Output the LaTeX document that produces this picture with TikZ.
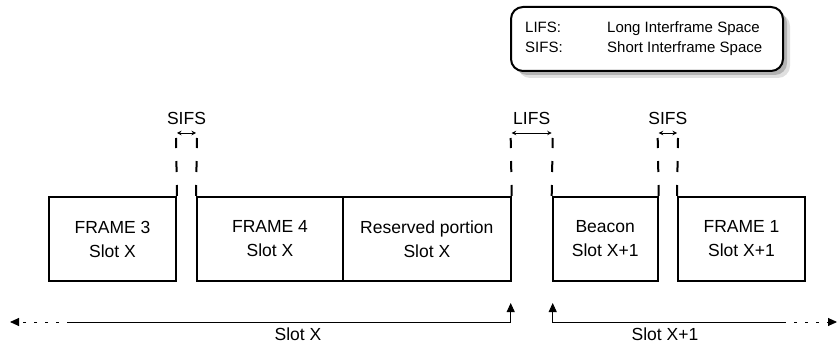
\documentclass[tikz,border=0pt]{standalone}
\usepackage{fontspec}
\setmainfont{Liberation Sans}
\usetikzlibrary{arrows.meta,shadows}
\begin{document}
\begin{tikzpicture}[x=1pt,y=-1pt,
  framebox/.style={draw,line width=2pt,minimum height=84pt,inner sep=0pt,align=center,font=\fontsize{17.5}{24}\selectfont},
  gapline/.style={line width=2pt,dash pattern=on 11pt off 13pt},
  gaparrow/.style={{Stealth[length=4.5pt,width=4.5pt]}-{Stealth[length=4.5pt,width=4.5pt]},line width=0.8pt},
  lbl/.style={font=\fontsize{17.5}{19}\selectfont,inner sep=0pt},
  slotline/.style={line width=0.9pt},
  slotdots/.style={line width=0.9pt,dash pattern=on 3pt off 8pt},
  slottip/.style={-{Triangle[length=9pt,width=8pt]}},
  legtext/.style={font=\fontsize{15}{18}\selectfont,inner sep=0pt,anchor=base west}]
\useasboundingbox (0,0) rectangle (837,344);
% frames
\node[framebox,minimum width=127pt] (f3) at (112.5,239) {FRAME 3\\Slot X};
\node[framebox,minimum width=146pt] (f4) at (270,239) {FRAME 4\\Slot X};
\node[framebox,minimum width=167.7pt] (res) at (426.85,239) {Reserved portion\\Slot X};
\node[framebox,minimum width=105pt] (bea) at (605.2,239) {Beacon\\Slot X+1};
\node[framebox,minimum width=127pt] (f1) at (741.5,239) {FRAME 1\\Slot X+1};
% gap markers
\coordinate (g1a) at (176,138); \coordinate (g1b) at (197,138);
\coordinate (g2a) at (510.7,138); \coordinate (g2b) at (552.7,138);
\coordinate (g3a) at (657.7,138); \coordinate (g3b) at (678,138);
\draw[gapline] (f3.north east) -- (g1a);
\draw[gapline] (f4.north west) -- (g1b);
\draw[gapline] (res.north east) -- (g2a);
\draw[gapline] (bea.north west) -- (g2b);
\draw[gapline] (bea.north east) -- (g3a);
\draw[gapline] (f1.north west) -- (g3b);
\coordinate (a1a) at (177,133); \coordinate (a1b) at (196,133);
\coordinate (a2a) at (511.7,133); \coordinate (a2b) at (551.7,133);
\coordinate (a3a) at (658.7,133); \coordinate (a3b) at (677,133);
\draw[gaparrow] (a1a) -- (a1b);
\draw[gaparrow] (a2a) -- (a2b);
\draw[gaparrow] (a3a) -- (a3b);
\node[lbl,anchor=base] (s1) at (186.5,125) {SIFS};
\node[lbl,anchor=base] (l1) at (531.7,125) {LIFS};
\node[lbl,anchor=base] (s2) at (667.8,125) {SIFS};
% slot axis
\coordinate (lt) at (10,322); \coordinate (ls) at (70,322);
\coordinate (lc) at (510.7,322); \coordinate (lu) at (510.7,303);
\draw[slotdots,slottip] (ls) -- (lt);
\draw[slotline,slottip] (ls) -- (lc) -- (lu);
\coordinate (ru) at (552.7,303); \coordinate (rc) at (552.7,322);
\coordinate (rs) at (783,322); \coordinate (rt) at (837,322);
\draw[slotline,slottip] (rs) -- (rc) -- (ru);
\draw[slotdots,slottip] (rs) -- (rt);
\node[lbl,anchor=base] (sx) at (298,340) {Slot X};
\node[lbl,anchor=base] (sx1) at (665,340) {Slot X+1};
% legend
\node[draw,fill=white,line width=2pt,rounded corners=12pt,minimum width=272pt,minimum height=64pt,
  drop shadow={shadow xshift=7pt,shadow yshift=-7pt,fill=black,opacity=0.12},
  drop shadow={shadow xshift=4pt,shadow yshift=-4pt,fill=black,opacity=0.2}] (legend) at (647,39) {};
\node[legtext] (k1) at (525,33) {LIFS:};
\node[legtext] (v1) at (607,33) {Long Interframe Space};
\node[legtext] (k2) at (525,53) {SIFS:};
\node[legtext] (v2) at (607,53) {Short Interframe Space};
\end{tikzpicture}
\end{document}
